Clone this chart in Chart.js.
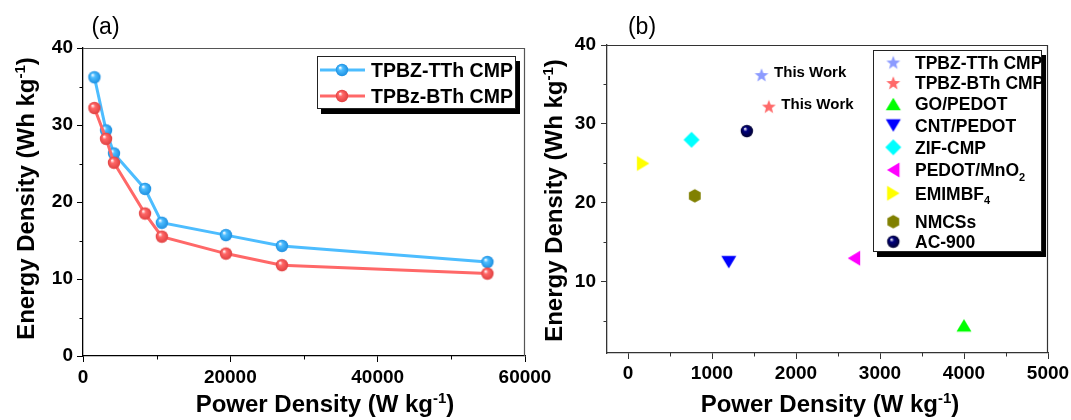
<!DOCTYPE html>
<html>
<head>
<meta charset="utf-8">
<script src="https://cdn.jsdelivr.net/npm/chart.js@4.4.0/dist/chart.umd.min.js"></script>
<style>
  body { margin: 0; background: #fff; }
  #wrap { position: relative; width: 1071px; height: 420px; overflow: hidden; }
  canvas { position: absolute; top: 0; }
</style>
</head>
<body>
<div id="wrap">
  <canvas id="chartA" width="560" height="420" style="left:0"></canvas>
  <canvas id="chartB" width="531" height="420" style="left:540px"></canvas>
</div>
<script>
// (a) energy vs power for the two CMPs
const powerA = [1550, 3130, 4200, 8420, 10700, 19400, 27000, 54900];
const energyTTh = [36.2, 29.3, 26.3, 21.7, 17.3, 15.7, 14.3, 12.2];
const energyBTh = [32.2, 28.2, 25.1, 18.5, 15.5, 13.3, 11.8, 10.7];
const seriesA = ['TPBZ-TTh CMP', 'TPBz-BTh CMP'];
const xTicksA = [0, 20000, 40000, 60000];
const yTicksA = [0, 10, 20, 30, 40];

// (b) comparison with other materials
const materialsB = ['TPBZ-TTh CMP', 'TPBZ-BTh CMP', 'GO/PEDOT', 'CNT/PEDOT', 'ZIF-CMP',
  'PEDOT/MnO_{2}', 'EMIMBF_{4}', 'NMCSs', 'AC-900'];
const powerB = [1590, 1677, 4000, 1200, 756, 2690, 180, 795, 1415];
const energyB = [36.2, 32.2, 4.5, 12.5, 28.0, 13.0, 25.0, 20.9, 29.1];
const notesB = ['This Work', 'This Work'];
const xTicksB = [0, 1000, 2000, 3000, 4000, 5000];
const yTicksB = [10, 20, 30, 40];

const FONT = '"Liberation Sans", Arial, sans-serif';

function makeMarker(shape, color, dark) {
  const c = document.createElement('canvas');
  c.width = 20; c.height = 20;
  const g = c.getContext('2d');
  const m = 10;
  g.fillStyle = color;
  g.beginPath();
  if (shape === 'sphere') {
    const r = 6.2;
    const grad = g.createRadialGradient(m - 2, m - 2.5, 0.3, m, m, r);
    grad.addColorStop(0, '#ffffff');
    grad.addColorStop(0.32, color);
    grad.addColorStop(1, dark || color);
    g.fillStyle = grad;
    g.arc(m, m, r, 0, Math.PI * 2);
  } else if (shape === 'star') {
    for (let i = 0; i < 10; i++) {
      const r = i % 2 ? 3.1 : 7.3;
      const a = -Math.PI / 2 + i * Math.PI / 5;
      g.lineTo(m + r * Math.cos(a), m + 0.5 + r * Math.sin(a));
    }
  } else if (shape === 'up') {
    g.moveTo(m, m - 6.3); g.lineTo(m + 7.5, m + 6.2); g.lineTo(m - 7.5, m + 6.2);
  } else if (shape === 'down') {
    g.moveTo(m, m + 6.3); g.lineTo(m + 7.5, m - 6.2); g.lineTo(m - 7.5, m - 6.2);
  } else if (shape === 'left') {
    g.moveTo(m - 6.3, m); g.lineTo(m + 6.2, m - 7.5); g.lineTo(m + 6.2, m + 7.5);
  } else if (shape === 'right') {
    g.moveTo(m + 6.3, m); g.lineTo(m - 6.2, m - 7.5); g.lineTo(m - 6.2, m + 7.5);
  } else if (shape === 'diamond') {
    g.moveTo(m, m - 8); g.lineTo(m + 8, m); g.lineTo(m, m + 8); g.lineTo(m - 8, m);
  } else if (shape === 'hexagon') {
    for (let i = 0; i < 6; i++) {
      const a = -Math.PI / 2 + i * Math.PI / 3;
      g.lineTo(m + 6.8 * Math.cos(a), m + 6.8 * Math.sin(a));
    }
  }
  g.closePath();
  g.fill();
  return c;
}

function richParts(text) {
  const parts = [];
  const re = /([_^])\{([^}]*)\}/g;
  let last = 0, mt;
  while ((mt = re.exec(text))) {
    if (mt.index > last) parts.push({ t: text.slice(last, mt.index), k: '' });
    parts.push({ t: mt[2], k: mt[1] });
    last = re.lastIndex;
  }
  if (last < text.length) parts.push({ t: text.slice(last), k: '' });
  return parts;
}

// draws text with ^{sup} and _{sub}; y is the baseline
function drawRich(ctx, text, x, y, size, weight, align) {
  const parts = richParts(text);
  const small = Math.round(size * 0.62);
  const fontOf = p => `${weight} ${p.k ? small : size}px ${FONT}`;
  let w = 0;
  parts.forEach(p => { ctx.font = fontOf(p); p.w = ctx.measureText(p.t).width; w += p.w; });
  let cx = align === 'center' ? x - w / 2 : x;
  ctx.textAlign = 'left';
  ctx.textBaseline = 'alphabetic';
  parts.forEach(p => {
    ctx.font = fontOf(p);
    const dy = p.k === '^' ? -size * 0.37 : p.k === '_' ? size * 0.24 : 0;
    ctx.fillText(p.t, cx, y + dy);
    cx += p.w;
  });
}

const decor = {
  id: 'decor',
  beforeDatasetsDraw(chart, args, o) {
    const ctx = chart.ctx, a = chart.chartArea;
    ctx.save();
    // top and right frame
    ctx.strokeStyle = o.frame;
    ctx.lineWidth = 1.2;
    ctx.beginPath();
    ctx.moveTo(a.left, a.top + 0.5);
    ctx.lineTo(a.right - 0.5, a.top + 0.5);
    ctx.lineTo(a.right - 0.5, a.bottom);
    ctx.stroke();
    // minor ticks
    ctx.strokeStyle = o.axisColor;
    ctx.lineWidth = 1;
    ['x', 'y'].forEach(id => {
      const s = chart.scales[id];
      const step = o.minor[id];
      const majors = s.ticks.map(t => t.value);
      for (let v = Math.ceil(s.min / step) * step; v <= s.max + 1e-9; v += step) {
        if (majors.some(mv => Math.abs(mv - v) < 1e-6)) continue;
        const p = Math.round(s.getPixelForValue(v)) + 0.5;
        ctx.beginPath();
        if (id === 'x') { ctx.moveTo(p, a.bottom); ctx.lineTo(p, a.bottom + 3.5); }
        else { ctx.moveTo(a.left, p); ctx.lineTo(a.left - 3.5, p); }
        ctx.stroke();
      }
    });
    ctx.restore();
  },
  afterDraw(chart, args, o) {
    const ctx = chart.ctx;
    ctx.save();
    ctx.fillStyle = '#000';
    // panel label
    drawRich(ctx, o.panel.text, o.panel.x, o.panel.y, 23, 'normal', 'center');
    // axis titles
    drawRich(ctx, o.xTitle.text, o.xTitle.x, o.xTitle.y, 24, 'bold', 'center');
    ctx.save();
    ctx.translate(o.yTitle.x, o.yTitle.y);
    ctx.rotate(-Math.PI / 2);
    drawRich(ctx, o.yTitle.text, 0, 0, 24, 'bold', 'center');
    ctx.restore();

    // legend box with shadow
    const L = o.legend;
    ctx.fillStyle = '#000';
    ctx.fillRect(L.x + 4, L.y + 5, L.w, L.h);
    ctx.fillStyle = '#fff';
    ctx.fillRect(L.x, L.y, L.w, L.h);
    ctx.strokeStyle = '#222';
    ctx.lineWidth = 1;
    ctx.strokeRect(L.x + 0.5, L.y + 0.5, L.w - 1, L.h - 1);
    chart.data.datasets.forEach((ds, i) => {
      const ry = L.rows[i];
      if (L.line) {
        ctx.strokeStyle = ds.borderColor;
        ctx.lineWidth = 3;
        ctx.beginPath();
        ctx.moveTo(L.line[0], ry);
        ctx.lineTo(L.line[1], ry);
        ctx.stroke();
      }
      const img = ds.pointStyle;
      ctx.drawImage(img, L.markX - img.width / 2, ry - img.height / 2);
      ctx.fillStyle = '#000';
      drawRich(ctx, ds.label, L.textX, ry + L.size * 0.36, L.size, 'bold', 'left');
    });

    // notes next to points
    if (o.notes) {
      o.notes.text.forEach((t, i) => {
        const pt = chart.getDatasetMeta(i).data[0];
        drawRich(ctx, t, pt.x + o.notes.dx, pt.y + o.notes.dy + 15 * 0.36, 15, 'bold', 'left');
      });
    }
    ctx.restore();
  }
};

function axis(min, max, ticks, size, pad, color) {
  return {
    type: 'linear', min: min, max: max,
    afterBuildTicks: s => { s.ticks = ticks.map(v => ({ value: v })); },
    ticks: {
      color: '#000', padding: pad, autoSkip: false, maxRotation: 0,
      font: { family: FONT, size: 19, weight: 'bold' },
      callback: v => String(v)
    },
    grid: { drawOnChartArea: false, drawTicks: true, tickLength: 6, color: color, lineWidth: 1 },
    border: { display: true, color: color, width: 1.3 },
    afterFit: s => {
      if (s.isHorizontal()) s.height = size; else s.width = size;
      s.paddingLeft = 0; s.paddingRight = 0; s.paddingTop = 0; s.paddingBottom = 0;
    }
  };
}

// ---- chart (a)
const lineColors = ['#4DBDFF', '#FF6868'];
const lineDark = ['#1C8FE0', '#E04040'];
const energyA = [energyTTh, energyBTh];
const dataA = seriesA.map((name, i) => ({
  label: name,
  data: powerA.map((p, k) => ({ x: p, y: energyA[i][k] })),
  showLine: true,
  borderColor: lineColors[i],
  backgroundColor: lineColors[i],
  borderWidth: 3,
  pointStyle: makeMarker('sphere', lineColors[i], lineDark[i]),
  order: 1 - i
}));

new Chart(document.getElementById('chartA'), {
  type: 'scatter',
  data: { datasets: dataA },
  options: {
    responsive: false, animation: false, events: [],
    layout: { padding: { top: 48, right: 35, left: 0, bottom: 0 } },
    scales: {
      x: axis(0, 60000, xTicksA, 64, 4, '#000'),
      y: axis(0, 40, yTicksA, 83, 4, '#000')
    },
    plugins: {
      legend: { display: false },
      tooltip: { enabled: false },
      decor: {
        frame: '#555', axisColor: '#000',
        minor: { x: 10000, y: 5 },
        panel: { text: '(a)', x: 105.5, y: 34 },
        xTitle: { text: 'Power Density (W kg^{-1})', x: 325, y: 412 },
        yTitle: { text: 'Energy Density (Wh kg^{-1})', x: 34, y: 198.5 },
        legend: { x: 317, y: 56, w: 199, h: 53, rows: [70, 96], line: [320, 365], markX: 342, textX: 371, size: 19.5 }
      }
    }
  },
  plugins: [decor]
});

// ---- chart (b)
const shapesB = ['star', 'star', 'up', 'down', 'diamond', 'left', 'right', 'hexagon', 'sphere'];
const colorsB = ['#8C9BFF', '#FF6A6A', '#00FF00', '#0000FF', '#00FFFF', '#FF00FF', '#FFFF00', '#808000', '#000080'];
const dataB = materialsB.map((name, i) => ({
  label: name,
  data: [{ x: powerB[i], y: energyB[i] }],
  pointStyle: makeMarker(shapesB[i], colorsB[i], '#000030'),
  backgroundColor: colorsB[i],
  borderColor: colorsB[i]
}));

new Chart(document.getElementById('chartB'), {
  type: 'scatter',
  data: { datasets: dataB },
  options: {
    responsive: false, animation: false, events: [],
    layout: { padding: { top: 45, right: 23, left: 0, bottom: 0 } },
    scales: {
      x: axis(-250, 5000, xTicksB, 67, 3, '#333'),
      y: axis(1, 40, yTicksB, 67, 5, '#333')
    },
    plugins: {
      legend: { display: false },
      tooltip: { enabled: false },
      decor: {
        frame: '#333', axisColor: '#333',
        minor: { x: 500, y: 5 },
        panel: { text: '(b)', x: 102, y: 34 },
        xTitle: { text: 'Power Density (W kg^{-1})', x: 290, y: 412 },
        yTitle: { text: 'Energy Density (Wh kg^{-1})', x: 22, y: 200.5 },
        legend: { x: 333, y: 50, w: 169, h: 202,
          rows: [62.5, 83, 104, 125.5, 147.3, 170, 193.3, 221.7, 241.7],
          markX: 353.3, textX: 375, size: 17.5 },
        notes: { text: notesB, dx: 12.5, dy: -3 }
      }
    }
  },
  plugins: [decor]
});
</script>
</body>
</html>
